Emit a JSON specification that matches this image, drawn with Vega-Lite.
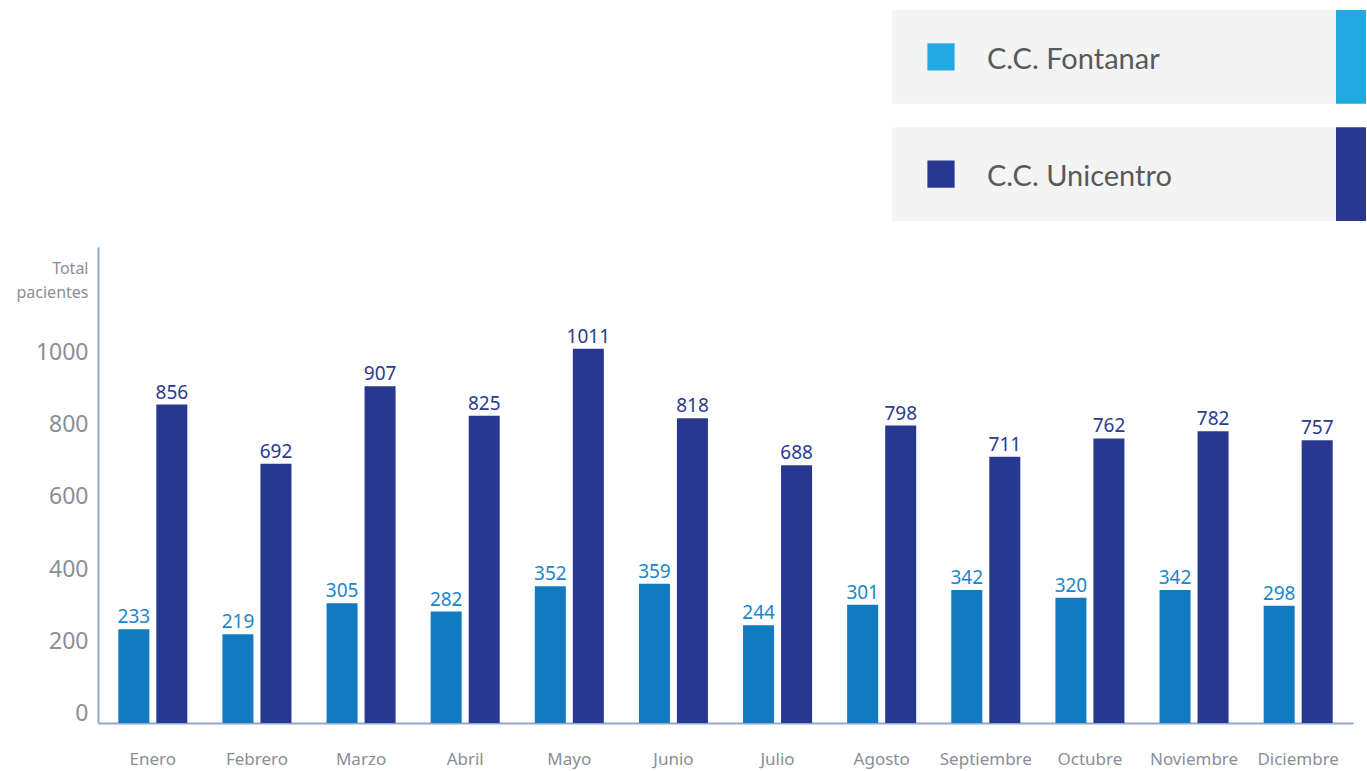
{
  "$schema": "https://vega.github.io/schema/vega-lite/v6.json",
  "padding": {"left": 15, "top": 10, "right": 0, "bottom": 5},
  "autosize": {"type": "pad"},
  "bounds": "flush",
  "spacing": 26,
  "background": "white",
  "config": {"view": {"stroke": null}, "font": "Noto Sans"},
  "datasets": {
    "pacientes": [
      {"mes": "Enero", "sede": "C.C. Fontanar", "total": 233},
      {"mes": "Enero", "sede": "C.C. Unicentro", "total": 856},
      {"mes": "Febrero", "sede": "C.C. Fontanar", "total": 219},
      {"mes": "Febrero", "sede": "C.C. Unicentro", "total": 692},
      {"mes": "Marzo", "sede": "C.C. Fontanar", "total": 305},
      {"mes": "Marzo", "sede": "C.C. Unicentro", "total": 907},
      {"mes": "Abril", "sede": "C.C. Fontanar", "total": 282},
      {"mes": "Abril", "sede": "C.C. Unicentro", "total": 825},
      {"mes": "Mayo", "sede": "C.C. Fontanar", "total": 352},
      {"mes": "Mayo", "sede": "C.C. Unicentro", "total": 1011},
      {"mes": "Junio", "sede": "C.C. Fontanar", "total": 359},
      {"mes": "Junio", "sede": "C.C. Unicentro", "total": 818},
      {"mes": "Julio", "sede": "C.C. Fontanar", "total": 244},
      {"mes": "Julio", "sede": "C.C. Unicentro", "total": 688},
      {"mes": "Agosto", "sede": "C.C. Fontanar", "total": 301},
      {"mes": "Agosto", "sede": "C.C. Unicentro", "total": 798},
      {"mes": "Septiembre", "sede": "C.C. Fontanar", "total": 342},
      {"mes": "Septiembre", "sede": "C.C. Unicentro", "total": 711},
      {"mes": "Octubre", "sede": "C.C. Fontanar", "total": 320},
      {"mes": "Octubre", "sede": "C.C. Unicentro", "total": 762},
      {"mes": "Noviembre", "sede": "C.C. Fontanar", "total": 342},
      {"mes": "Noviembre", "sede": "C.C. Unicentro", "total": 782},
      {"mes": "Diciembre", "sede": "C.C. Fontanar", "total": 298},
      {"mes": "Diciembre", "sede": "C.C. Unicentro", "total": 757}
    ],
    "leyenda": [
      {"sede": "C.C. Fontanar"},
      {"sede": "C.C. Unicentro"}
    ]
  },
  "resolve": {"scale": {"color": "independent", "fill": "independent", "x": "independent", "y": "independent"}},
  "vconcat": [
    {
      "width": 1268,
      "height": 211,
      "data": {"name": "leyenda"},
      "encoding": {
        "y": {"field": "sede", "type": "nominal", "axis": null, "scale": {"paddingInner": 0.2, "paddingOuter": 0}}
      },
      "layer": [
        {
          "mark": {"type": "rect", "fill": "#F4F4F4"},
          "encoding": {
            "x": {"datum": 794, "type": "quantitative", "scale": {"domain": [0, 1268], "nice": false, "zero": false}, "axis": null},
            "x2": {"datum": 1268}
          }
        },
        {
          "mark": {"type": "rect"},
          "encoding": {
            "x": {"datum": 1238, "type": "quantitative"},
            "x2": {"datum": 1268},
            "color": {"field": "sede", "type": "nominal", "scale": {"domain": ["C.C. Fontanar", "C.C. Unicentro"], "range": ["#23A9E1", "#283891"]}, "legend": null}
          }
        },
        {
          "mark": {"type": "square", "size": 740, "opacity": 1, "filled": true},
          "encoding": {
            "x": {"datum": 843, "type": "quantitative"},
            "color": {"field": "sede", "type": "nominal", "legend": null}
          }
        },
        {
          "mark": {"type": "text", "align": "left", "baseline": "middle", "dy": 3, "font": "Lato", "fontSize": 29, "fill": "#58595B"},
          "encoding": {
            "x": {"datum": 889, "type": "quantitative"},
            "text": {"field": "sede", "type": "nominal"}
          }
        }
      ]
    },
    {
      "width": 1255,
      "height": 476,
      "data": {"name": "pacientes"},
      "encoding": {
        "x": {
          "field": "mes",
          "type": "nominal",
          "sort": ["Enero", "Febrero", "Marzo", "Abril", "Mayo", "Junio", "Julio", "Agosto", "Septiembre", "Octubre", "Noviembre", "Diciembre"],
          "scale": {"paddingInner": 0.337, "paddingOuter": 0.195},
          "axis": {
            "title": null,
            "labelAngle": 0,
            "ticks": false,
            "grid": false,
            "domainColor": "#8FA8CF",
            "domainWidth": 2,
            "labelFontSize": 17,
            "labelColor": "#8A8E96",
            "labelPadding": 28,
            "labelFont": "Noto Sans"
          }
        },
        "xOffset": {
          "field": "sede",
          "type": "nominal",
          "scale": {"paddingInner": 0.184, "paddingOuter": 0}
        },
        "y": {
          "field": "total",
          "type": "quantitative",
          "scale": {"domain": [-27, 1293], "nice": false, "zero": false},
          "axis": {
            "values": [0, 200, 400, 600, 800, 1000],
            "format": "d",
            "ticks": false,
            "grid": false,
            "domainColor": "#8FA8CF",
            "domainWidth": 2,
            "labelFontSize": 23,
            "labelColor": "#8A8E96",
            "labelPadding": 10,
            "labelFont": "Noto Sans",
            "title": ["Total", "pacientes"],
            "titleAngle": 0,
            "titleAlign": "right",
            "titleBaseline": "alphabetic",
            "titleX": -10,
            "titleY": 26,
            "titleFontSize": 16,
            "titleFontWeight": "normal",
            "titleColor": "#8A8E96",
            "titleFont": "Noto Sans",
            "titleLineHeight": 24
          }
        }
      },
      "layer": [
        {
          "mark": {"type": "bar"},
          "encoding": {
            "y2": {"datum": -27},
            "color": {"field": "sede", "type": "nominal", "scale": {"domain": ["C.C. Fontanar", "C.C. Unicentro"], "range": ["#127AC0", "#283891"]}, "legend": null}
          }
        },
        {
          "mark": {"type": "text", "baseline": "alphabetic", "dy": -6, "fontSize": 19, "font": "Noto Sans"},
          "encoding": {
            "text": {"field": "total", "type": "quantitative"},
            "fill": {"field": "sede", "type": "nominal", "scale": {"domain": ["C.C. Fontanar", "C.C. Unicentro"], "range": ["#1C86CB", "#2A3A90"]}, "legend": null}
          }
        }
      ]
    }
  ]
}
